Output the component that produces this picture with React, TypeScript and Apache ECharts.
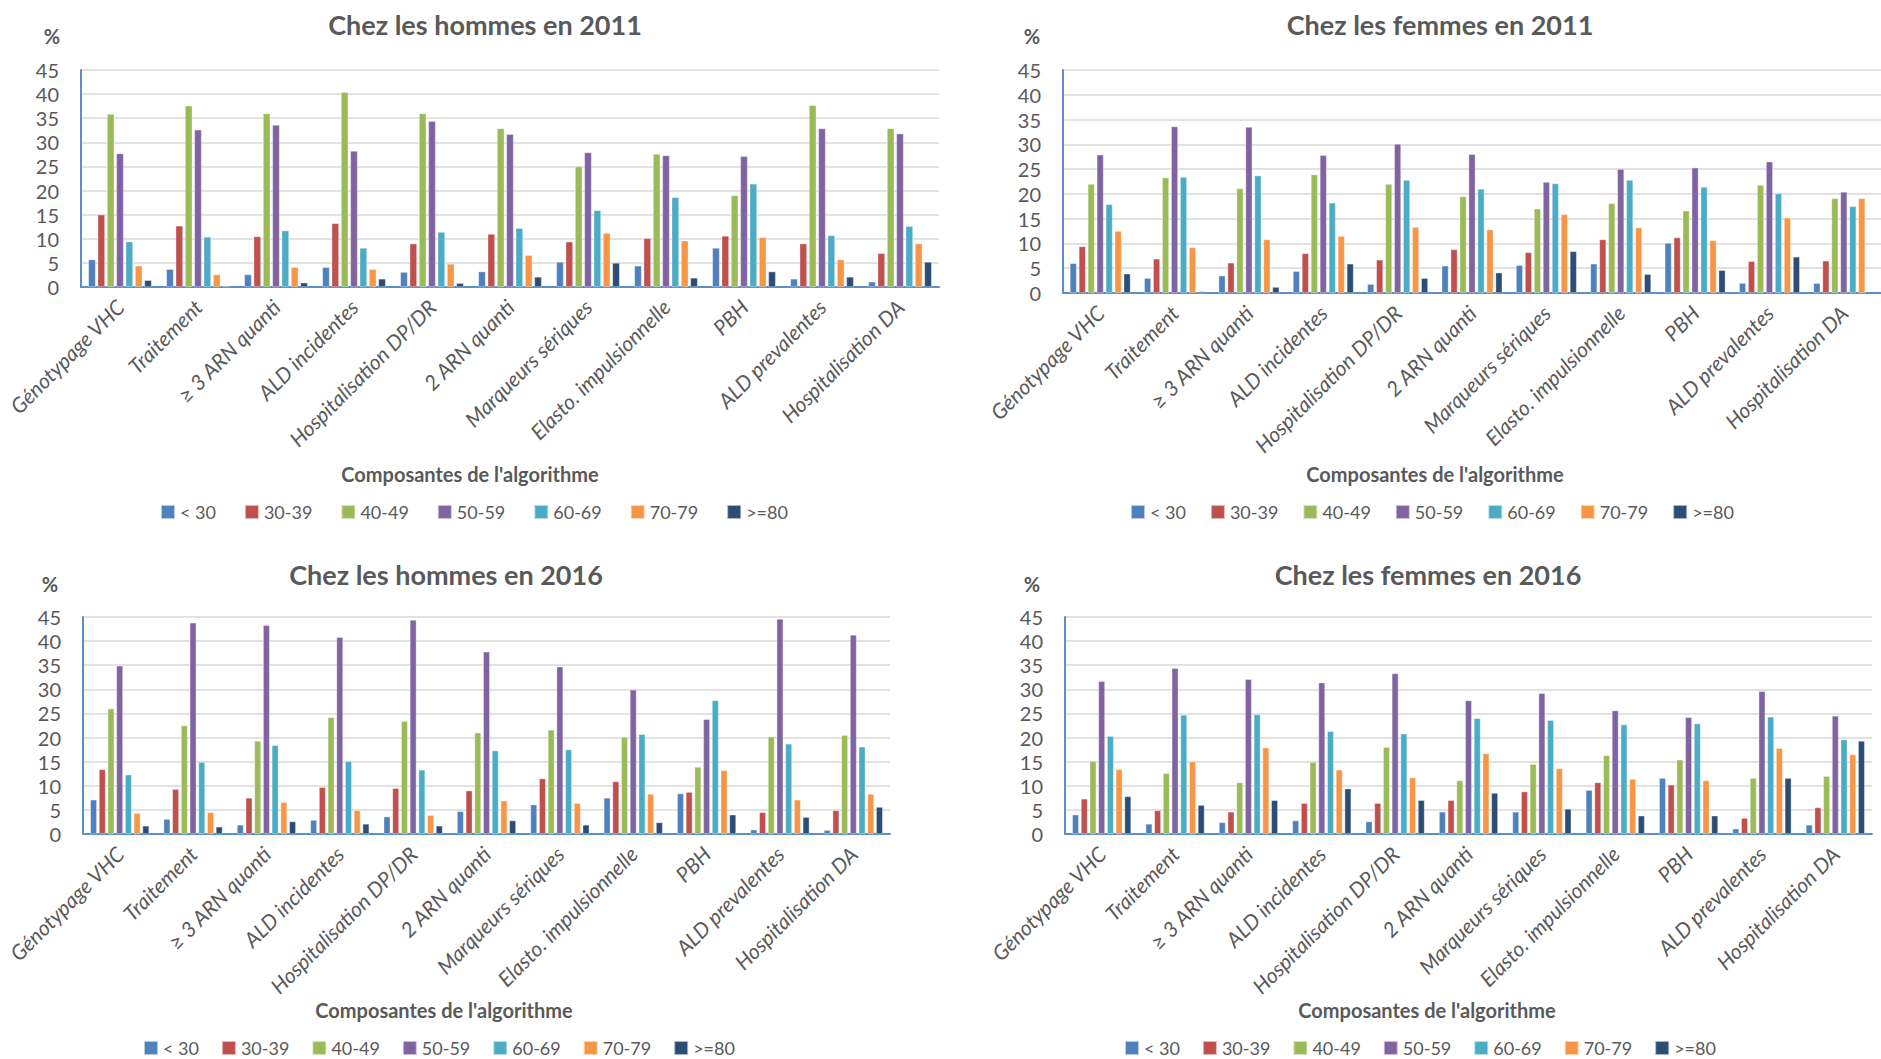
import React, { useEffect, useRef } from "react";
import * as echarts from "echarts";

const categories = [
  "Génotypage VHC",
  "Traitement",
  "≥ 3 ARN quanti",
  "ALD incidentes",
  "Hospitalisation DP/DR",
  "2 ARN quanti",
  "Marqueurs sériques",
  "Elasto. impulsionnelle",
  "PBH",
  "ALD prevalentes",
  "Hospitalisation DA",
];

const ageGroups = ["< 30", "30-39", "40-49", "50-59", "60-69", "70-79", ">=80"];
const colors = ["#4F81BD", "#C0504D", "#9BBB59", "#8064A2", "#4BACC6", "#F79646", "#2C4D75"];

const yTicks = { min: 0, max: 45, interval: 5 };

// Rows = age groups, columns = categories
const hommes2011: (number | null)[][] = [
  [5.7, 3.7, 2.6, 4.1, 3.1, 3.2, 5.2, 4.4, 8.1, 1.7, 1.1],
  [15.0, 12.7, 10.5, 13.2, 9.0, 11.0, 9.4, 10.1, 10.6, 9.0, 7.0],
  [35.9, 37.6, 36.0, 40.4, 36.0, 32.9, 25.0, 27.6, 19.0, 37.7, 32.9],
  [27.7, 32.6, 33.6, 28.2, 34.4, 31.7, 27.9, 27.3, 27.1, 32.9, 31.8],
  [9.4, 10.4, 11.7, 8.1, 11.4, 12.2, 15.9, 18.6, 21.4, 10.7, 12.6],
  [4.4, 2.6, 4.1, 3.7, 4.8, 6.6, 11.2, 9.6, 10.3, 5.7, 9.0],
  [1.4, 0.2, 0.9, 1.7, 0.8, 2.1, 5.0, 1.9, 3.2, 2.1, 5.2],
];

const femmes2011: (number | null)[][] = [
  [6.0, 3.0, 3.5, 4.4, 1.8, 5.5, 5.6, 5.9, 10.1, 2.0, 2.0],
  [9.4, 6.9, 6.1, 8.0, 6.7, 8.8, 8.2, 10.8, 11.2, 6.4, 6.5],
  [22.0, 23.3, 21.1, 23.9, 22.0, 19.5, 17.0, 18.1, 16.6, 21.8, 19.1],
  [27.9, 33.6, 33.5, 27.8, 30.1, 28.0, 22.4, 25.0, 25.3, 26.5, 20.4],
  [17.9, 23.4, 23.7, 18.2, 22.8, 21.0, 22.1, 22.8, 21.4, 20.1, 17.5],
  [12.5, 9.2, 10.8, 11.5, 13.3, 12.8, 15.9, 13.2, 10.6, 15.2, 19.1],
  [3.9, 0.3, 1.2, 5.9, 3.0, 4.1, 8.4, 3.8, 4.6, 7.3, null],
];

const hommes2016: (number | null)[][] = [
  [7.1, 3.1, 1.9, 2.9, 3.6, 4.7, 6.1, 7.5, 8.4, 0.9, 0.8],
  [13.4, 9.3, 7.5, 9.7, 9.5, 9.0, 11.5, 10.9, 8.7, 4.5, 4.9],
  [26.0, 22.5, 19.3, 24.2, 23.4, 21.0, 21.6, 20.1, 13.9, 20.2, 20.5],
  [34.9, 43.8, 43.3, 40.8, 44.4, 37.8, 34.7, 29.9, 23.8, 44.6, 41.3],
  [12.3, 14.9, 18.4, 15.1, 13.3, 17.3, 17.5, 20.7, 27.7, 18.7, 18.1],
  [4.3, 4.5, 6.6, 4.9, 3.9, 6.9, 6.4, 8.3, 13.2, 7.1, 8.3],
  [1.7, 1.5, 2.6, 2.1, 1.7, 2.8, 1.9, 2.4, 4.0, 3.5, 5.6],
];

const femmes2016: (number | null)[][] = [
  [4.0, 2.1, 2.4, 2.8, 2.6, 4.6, 4.6, 9.1, 11.6, 1.1, 1.9],
  [7.3, 4.9, 4.6, 6.4, 6.4, 7.0, 8.8, 10.7, 10.2, 3.3, 5.5],
  [15.1, 12.6, 10.7, 14.9, 18.0, 11.1, 14.5, 16.3, 15.4, 11.6, 12.0],
  [31.7, 34.4, 32.1, 31.4, 33.3, 27.7, 29.2, 25.6, 24.2, 29.6, 24.5],
  [20.3, 24.7, 24.8, 21.3, 20.8, 24.0, 23.6, 22.7, 22.9, 24.3, 19.6],
  [13.4, 15.0, 17.9, 13.3, 11.7, 16.7, 13.6, 11.4, 11.1, 17.8, 16.5],
  [7.8, 6.0, 7.0, 9.4, 7.0, 8.5, 5.2, 3.8, 3.8, 11.6, 19.3],
];

const panelTitles = [
  "Chez les hommes en 2011",
  "Chez les femmes en 2011",
  "Chez les hommes en 2016",
  "Chez les femmes en 2016",
];
const axisName = "Composantes de l'algorithme";

const panels = [
  { data: hommes2011, grid: { left: 81, top: 70, width: 858, height: 217 }, barWidth: 7.3, barGap: "28%",
    title: [485, 24], pct: [52, 36], xname: [470, 474], legend: [155, 498], legendGap: 28 },
  { data: femmes2011, grid: { left: 1063, top: 70, width: 832, height: 223 }, barWidth: 6.8, barGap: "32%",
    title: [1440, 24], pct: [1032, 36], xname: [1435, 474], legend: [1125, 498], legendGap: 24 },
  { data: hommes2016, grid: { left: 83, top: 617, width: 807, height: 217 }, barWidth: 6.6, barGap: "32%",
    title: [446, 574], pct: [50, 584], xname: [444, 1010], legend: [138, 1034], legendGap: 22 },
  { data: femmes2016, grid: { left: 1065, top: 617, width: 807, height: 217 }, barWidth: 6.6, barGap: "32%",
    title: [1428, 574], pct: [1032, 584], xname: [1427, 1010], legend: [1119, 1034], legendGap: 22 },
];

const TEXT = "#595959";
const FONT = "Lato";

export default function App() {
  const ref = useRef<HTMLDivElement>(null);
  useEffect(() => {
    if (!ref.current) return;
    const chart = echarts.init(ref.current, undefined, { renderer: "svg" });
    const grids: any[] = [];
    const xAxes: any[] = [];
    const yAxes: any[] = [];
    const series: any[] = [];
    const legends: any[] = [];
    const graphics: any[] = [];
    panels.forEach((p, i) => {
      grids.push({ ...p.grid, containLabel: false });
      xAxes.push({
        type: "category",
        gridIndex: i,
        data: categories,
        axisTick: { show: false },
        axisLine: { show: true, lineStyle: { color: "#5B8FC9", width: 2 } },
        axisLabel: {
          interval: 0,
          rotate: 45,
          fontStyle: "italic",
          fontSize: 21,
          fontFamily: FONT,
          color: TEXT,
          margin: 16,
        },
      });
      yAxes.push({
        type: "value",
        gridIndex: i,
        min: yTicks.min,
        max: yTicks.max,
        interval: yTicks.interval,
        axisLine: { show: true, lineStyle: { color: "#5B8FC9", width: 2 } },
        axisTick: { show: false },
        axisLabel: { fontSize: 20, fontFamily: FONT, color: TEXT, margin: 22 },
        splitLine: { show: true, lineStyle: { color: "#D9D9D9", width: 1.5 } },
      });
      ageGroups.forEach((g, k) => {
        series.push({
          type: "bar",
          name: g,
          xAxisIndex: i,
          yAxisIndex: i,
          data: p.data[k],
          barWidth: p.barWidth,
          barGap: p.barGap,
          itemStyle: { color: colors[k], borderColor: "rgba(255,255,255,0.6)", borderWidth: 0.6 },
        });
      });
      legends.push({
        left: p.legend[0],
        top: p.legend[1],
        orient: "horizontal",
        icon: "rect",
        itemWidth: 14,
        itemHeight: 14,
        itemGap: p.legendGap,
        selectedMode: false,
        data: ageGroups,
        textStyle: { fontSize: 18, fontFamily: FONT, color: TEXT },
      });
      graphics.push({
        type: "text",
        x: p.title[0],
        y: p.title[1],
        style: {
          text: panelTitles[i],
          fontSize: 27,
          fontWeight: "bold",
          fontFamily: FONT,
          fill: TEXT,
          textAlign: "center",
          textVerticalAlign: "middle",
        },
      });
      graphics.push({
        type: "text",
        x: p.pct[0],
        y: p.pct[1],
        style: {
          text: "%",
          fontSize: 20,
          fontWeight: "bold",
          fontFamily: FONT,
          fill: TEXT,
          textAlign: "center",
          textVerticalAlign: "middle",
        },
      });
      graphics.push({
        type: "text",
        x: p.xname[0],
        y: p.xname[1],
        style: {
          text: axisName,
          fontSize: 20,
          fontWeight: "bold",
          fontFamily: FONT,
          fill: TEXT,
          textAlign: "center",
          textVerticalAlign: "middle",
        },
      });
    });
    chart.setOption({
      animation: false,
      backgroundColor: "#ffffff",
      textStyle: { fontFamily: FONT },
      grid: grids,
      xAxis: xAxes,
      yAxis: yAxes,
      legend: legends,
      series,
      graphic: graphics,
    });
    return () => chart.dispose();
  }, []);
  return (
    <div
      ref={ref}
      style={{ position: "fixed", left: 0, top: 0, width: 1881, height: 1059, background: "#fff" }}
    />
  );
}
